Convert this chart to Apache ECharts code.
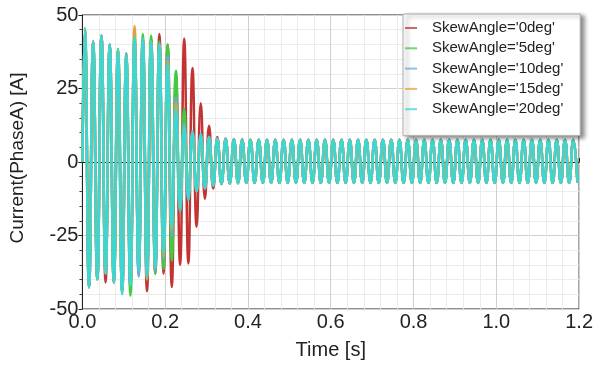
<!DOCTYPE html>
<html>
<head>
<meta charset="utf-8">
<script src="https://cdn.jsdelivr.net/npm/echarts@6/dist/echarts.min.js"></script>
<style>
html,body{margin:0;padding:0;background:#fff;}
#chart{width:596px;height:365px;}
</style>
</head>
<body>
<div id="chart"></div>
<script>
// Sample times [s]: start, then alternating positive / negative extrema
const time = [0,
  0.006,0.016,0.026,0.036,0.046,0.056,0.066,0.076,0.086,0.096,
  0.106,0.116,0.126,0.136,0.146,0.156,0.166,0.176,0.186,0.196,
  0.206,0.216,0.226,0.236,0.246,0.256,0.266,0.276,0.286,0.296,
  0.306,0.316,0.326,0.336,0.346,0.356,0.366,0.376,0.386,0.396,
  0.406,0.416,0.426,0.436,0.446,0.456,0.466,0.476,0.486,0.496,
  0.506,0.516,0.526,0.536,0.546,0.556,0.566,0.576,0.586,0.596,
  0.606,0.616,0.626,0.636,0.646,0.656,0.666,0.676,0.686,0.696,
  0.706,0.716,0.726,0.736,0.746,0.756,0.766,0.776,0.786,0.796,
  0.806,0.816,0.826,0.836,0.846,0.856,0.866,0.876,0.886,0.896,
  0.906,0.916,0.926,0.936,0.946,0.956,0.966,0.976,0.986,0.996,
  1.006,1.016,1.026,1.036,1.046,1.056,1.066,1.076,1.086,1.096,
  1.106,1.116,1.126,1.136,1.146,1.156,1.166,1.176,1.186,1.196];

const seriesNames = ["SkewAngle='0deg'","SkewAngle='5deg'","SkewAngle='10deg'","SkewAngle='15deg'","SkewAngle='20deg'"];

// Start-up transient (t = 0 .. 0.396 s), current [A]
const skew0 = [0,
  45,-42.5, 41,-40, 43,-41, 40,-41, 38,-44.4, 36,-43, 42,-38, 42,-44, 42,-38, 43.5,-38,
  40,-42.5, 30,-35, 42,-34.5, 32,-22, 20,-12.5, 12.3,-9, 8.5,-7.5, 8,-7.3, 7.8,-7.2, 7.7,-7.1];
const skew5 = [0,
  45,-42.5, 41,-40, 43,-38, 40,-41, 38.5,-44, 37,-45.5, 43,-37, 43.5,-40, 43,-38, 41,-36.5,
  40,-33.6, 31,-17, 18,-10.5, 9.5,-8.5, 8.5,-8, 8,-7.5, 7.8,-7.3, 7.7,-7.2, 7.7,-7.1, 7.6,-7.1];
const skew10 = [0,
  45.5,-42.7, 41,-40, 43,-38, 40,-41, 38,-44, 37,-42, 42,-39, 42,-39, 41,-37, 40,-33,
  36,-25, 22,-17, 13,-12, 10,-10, 9,-9, 8.5,-8, 8,-7.5, 7.8,-7.3, 7.7,-7.2, 7.6,-7.1];
const skew15 = [0,
  45.5,-42.7, 41,-40, 43,-38, 39,-41, 38,-44, 36,-41, 46.3,-36, 42,-40, 41,-36, 40,-32,
  34,-23, 20,-16, 12,-12, 10,-10, 9,-9, 8.5,-8, 8,-7.5, 7.8,-7.3, 7.7,-7.2, 7.6,-7.1];
const skew20 = [0,
  45.5,-42.7, 41,-40, 43,-38, 40,-41, 38,-45, 36,-42, 42.5,-37, 42,-39, 41,-36, 40,-31,
  33,-22, 18,-16, 12,-13, 10.5,-10, 9.5,-9, 8.5,-8, 8,-7.5, 7.8,-7.2, 7.7,-7.2, 7.6,-7.1];

// Steady-state (t = 0.406 .. 1.196 s), common to all skew angles
const steady = [
  7.6,-7.1, 7.6,-7.1, 7.6,-7.1, 7.6,-7.1, 7.6,-7.1, 7.6,-7.1, 7.6,-7.1, 7.6,-7.1, 7.6,-7.1, 7.6,-7.1,
  7.6,-7.1, 7.6,-7.1, 7.6,-7.1, 7.6,-7.1, 7.6,-7.1, 7.6,-7.1, 7.6,-7.1, 7.6,-7.1, 7.6,-7.1, 7.6,-7.1,
  7.6,-7.1, 7.6,-7.1, 7.6,-7.1, 7.6,-7.1, 7.6,-7.1, 7.6,-7.1, 7.6,-7.1, 7.6,-7.1, 7.6,-7.1, 7.6,-7.1,
  7.6,-7.1, 7.6,-7.1, 7.6,-7.1, 7.6,-7.1, 7.6,-7.1, 7.6,-7.1, 7.6,-7.1, 7.6,-7.1, 7.6,-7.1, 7.6,-7.1];

const xTicks = ["0.0","0.2","0.4","0.6","0.8","1.0","1.2"];
const yTicks = ["-50","-25","0","25","50"];

const colors = ['#c23434','#3fcc3f','#6ea8d8','#e0a235','#3ed6d2'];
const transients = [skew0, skew5, skew10, skew15, skew20];

const chart = echarts.init(document.getElementById('chart'), null, {renderer:'canvas'});
const series = seriesNames.map((name, i) => {
  const vals = transients[i].concat(steady);
  return {
    name: name,
    type: 'line',
    symbol: 'none',
    smooth: 0.5,
    data: time.map((t, j) => [t, vals[j]]),
    lineStyle: {width: 2.5, color: colors[i]},
    itemStyle: {color: colors[i]},
    animation: false
  };
});

const FONT = '"Liberation Sans", Arial, sans-serif';

chart.setOption({
  animation: false,
  backgroundColor: '#fff',
  grid: {left: 82.4, right: 13.6, top: 15, bottom: 53.3, show: true, borderColor: '#222', borderWidth: 1},
  xAxis: {
    type: 'value', min: 0, max: 1.2, interval: 0.2,
    axisLine: {show: true, lineStyle: {color: '#222', width: 1}},
    axisTick: {show: true, inside: true, length: 4, lineStyle: {color: '#222'}},
    minorTick: {show: true, splitNumber: 5, length: 3, lineStyle: {color: '#444'}},
    splitLine: {show: true, lineStyle: {color: '#cfcfcf', width: 1}},
    minorSplitLine: {show: true, lineStyle: {color: '#ececec', width: 1}},
    axisLabel: {
      formatter: v => xTicks[Math.round(v / 0.2)],
      fontFamily: FONT, fontSize: 20, color: '#222', margin: 3
    },
    name: 'Time [s]', nameLocation: 'middle', nameGap: 31,
    nameTextStyle: {fontFamily: FONT, fontSize: 20, color: '#222'}
  },
  yAxis: {
    type: 'value', min: -50, max: 50, interval: 25,
    axisLine: {show: true, onZero: false, lineStyle: {color: '#222', width: 1}},
    axisTick: {show: true, inside: false, length: 4, lineStyle: {color: '#222'}},
    minorTick: {show: true, splitNumber: 5, length: 3, lineStyle: {color: '#444'}},
    splitLine: {show: true, lineStyle: {color: '#cfcfcf', width: 1}},
    minorSplitLine: {show: true, lineStyle: {color: '#ececec', width: 1}},
    axisLabel: {
      formatter: v => yTicks[Math.round((v + 50) / 25)],
      fontFamily: FONT, fontSize: 20, color: '#222', margin: 4
    }
  },
  legend: {
    orient: 'vertical', left: 403, top: 14,
    padding: [6.5, 17, 19, 2],
    icon: 'rect',
    itemWidth: 12, itemHeight: 2, itemGap: 5.3,
    backgroundColor: '#fff', borderColor: '#aaa', borderWidth: 1,
    shadowColor: 'rgba(0,0,0,0.45)', shadowBlur: 4, shadowOffsetX: 4, shadowOffsetY: 2,
    itemStyle: {opacity: 0.75},
    textStyle: {fontFamily: FONT, fontSize: 15, color: '#222', padding: [0, 0, 0, 10]},
    data: seriesNames,
    selectedMode: false
  },
  graphic: [{
    type: 'text',
    x: 18, y: 158,
    rotation: Math.PI / 2,
    style: {text: 'Current(PhaseA) [A]', font: '19px ' + FONT, fill: '#222', textAlign: 'center', textVerticalAlign: 'middle'}
  }],
  series: series
});
</script>
</body>
</html>
